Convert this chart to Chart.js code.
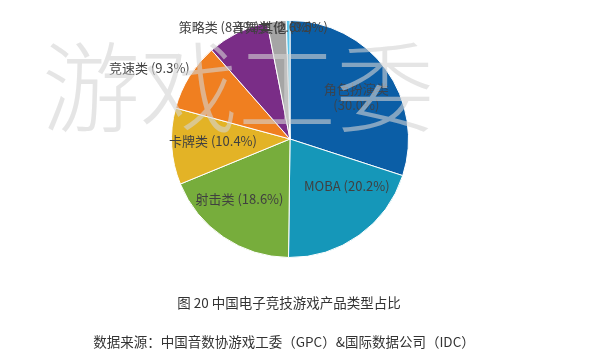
<!DOCTYPE html>
<html>
<head>
<meta charset="utf-8">
<script src="https://cdn.jsdelivr.net/npm/chart.js@4.4.7/dist/chart.umd.min.js"></script>
<style>
  html, body { margin: 0; padding: 0; background: #fff; }
  #wrap { position: relative; width: 596px; height: 362px; }
</style>
</head>
<body>
<div id="wrap"><canvas id="pie" width="596" height="362"></canvas></div>
<script>
// ---- Data ----
const categories = ["角色扮演类", "MOBA", "射击类", "卡牌类", "竞速类", "策略类", "音舞类", "其他"];
const shares = [30.0, 20.2, 18.6, 10.4, 9.3, 8.4, 2.6, 0.5];
const shareLabels = ["30.0%", "20.2%", "18.6%", "10.4%", "9.3%", "8.4%", "2.6%", "0.5%"];

// ---- Style ----
const sliceColors = ["#0b5ea6", "#1597b9", "#77ad3c", "#e3b326", "#f07f20", "#7a2d87", "#a5a5a5", "#5cc4ea"];
// label placement: radius factor, angle nudge (deg), pixel nudge from pie centre for the crowded top ones
const labelPlace = [
  { r: 0.66, da: 4,   dx: 0,   dy: 0 },
  { r: 0.62, da: -15, dx: 0,   dy: 0 },
  { r: 0.66, da: 6,   dx: 0,   dy: 0 },
  { r: 0.65, da: 2,   dx: 0,   dy: 0 },
  { r: 1.33, da: -5,  dx: 0,   dy: 0 },
  { r: 0,    da: 0,   dx: -71, dy: -112 },
  { r: 0,    da: 0,   dx: -18, dy: -112 },
  { r: 0,    da: 0,   dx: 4,   dy: -112 }
];
const FONT = '"Noto Sans CJK SC", "Noto Sans", sans-serif';

const labelPlugin = {
  id: "sliceLabels",
  afterDatasetsDraw(chart) {
    const c = chart.ctx;
    const arcs = chart.getDatasetMeta(0).data;
    c.save();
    c.font = "13px " + FONT;
    c.textBaseline = "middle";
    c.textAlign = "center";
    arcs.forEach(function (arc, i) {
      const p = labelPlace[i];
      const mid = (arc.startAngle + arc.endAngle) / 2 + p.da * Math.PI / 180;
      const rr = arc.outerRadius * p.r;
      const x = arc.x + Math.cos(mid) * rr + p.dx;
      const y = arc.y + Math.sin(mid) * rr + p.dy;
      if (i === 0) {
        c.fillStyle = "#3a4450";
        c.fillText(categories[i], x, y - 8);
        c.fillText("(" + shareLabels[i] + ")", x, y + 8);
      } else {
        c.fillStyle = "#404040";
        c.fillText(categories[i] + " (" + shareLabels[i] + ")", x, y);
      }
    });
    c.restore();
  },
  afterDraw(chart) {
    const c = chart.ctx;
    c.save();
    // watermark
    c.font = "300 98px " + FONT;
    c.fillStyle = "rgba(212, 212, 212, 0.6)";
    c.textAlign = "center";
    c.textBaseline = "alphabetic";
    c.fillText("游戏工委", 238, 124);
    // captions
    c.fillStyle = "#333";
    c.font = "13.5px " + FONT;
    c.fillText("图 20 中国电子竞技游戏产品类型占比", 289, 308);
    c.font = "13.5px " + FONT;
    c.fillText("数据来源：中国音数协游戏工委（GPC）&国际数据公司（IDC）", 284, 347);
    c.restore();
  }
};

new Chart(document.getElementById("pie"), {
  type: "pie",
  data: {
    labels: categories,
    datasets: [{
      data: shares,
      backgroundColor: sliceColors,
      borderColor: "#ffffff",
      borderWidth: 1
    }]
  },
  options: {
    responsive: false,
    animation: false,
    layout: { padding: { top: 20, bottom: 104, left: 0, right: 16 } },
    plugins: {
      legend: { display: false },
      tooltip: { enabled: false }
    }
  },
  plugins: [labelPlugin]
});
</script>
</body>
</html>
